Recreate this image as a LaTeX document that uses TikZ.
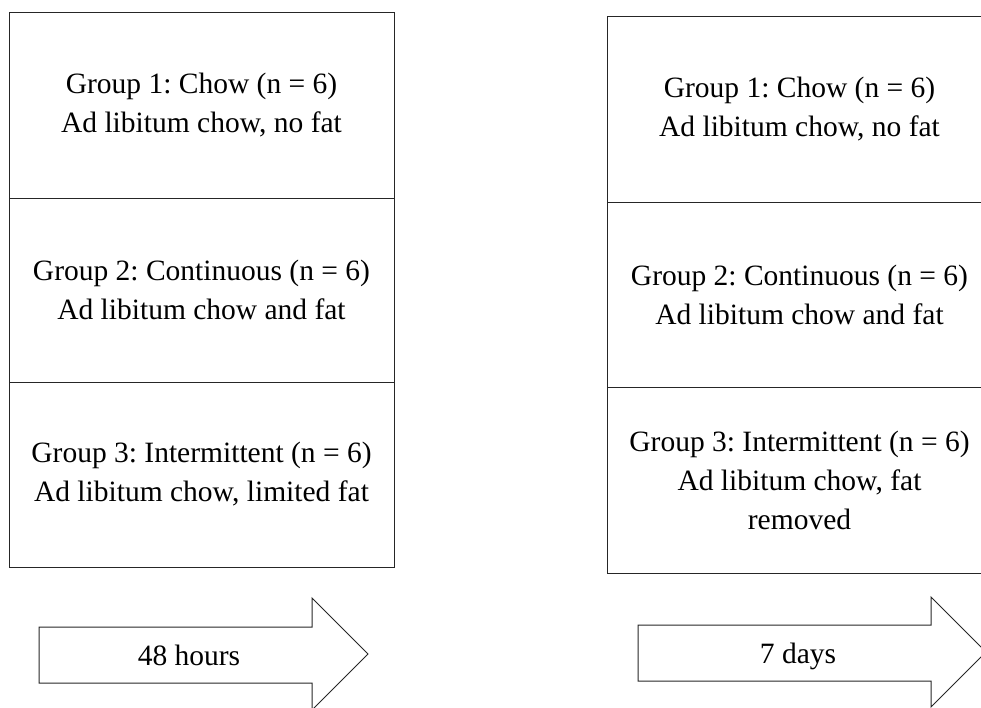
\documentclass[tikz,border=0pt]{standalone}
\usepackage{fontspec}
\setmainfont{Liberation Serif}
\frenchspacing
\begin{document}
\begin{tikzpicture}[x=1pt,y=-1pt,line width=1pt,
  grpbox/.style={draw=black!85,minimum width=385pt,align=center,inner sep=0pt,
    font=\fontsize{29.5}{39}\selectfont},
  arrowshape/.style={draw=black!85,line join=miter},
  arrowlabel/.style={anchor=base,inner sep=0pt,font=\fontsize{29.5}{39}\selectfont}]
\useasboundingbox (0,0) rectangle (981,707);
\clip (0,0) rectangle (981,707);
% left column
\node[grpbox,minimum height=186pt] (l1) at (201.5,105) {Group 1: Chow (n = 6)\\Ad libitum chow, no fat};
\node[grpbox,minimum height=184pt] (l2) at (201.5,290) {Group 2: Continuous (n = 6)\\Ad libitum chow and fat};
\node[grpbox,minimum height=185pt] (l3) at (201.5,474.5) {Group 3: Intermittent (n = 6)\\Ad libitum chow, limited fat};
% right column
\node[grpbox,minimum height=186pt] (r1) at (799.5,109) {Group 1: Chow (n = 6)\\Ad libitum chow, no fat};
\node[grpbox,minimum height=185pt] (r2) at (799.5,294.5) {Group 2: Continuous (n = 6)\\Ad libitum chow and fat};
\node[grpbox,minimum height=186pt] (r3) at (799.5,480) {Group 3: Intermittent (n = 6)\\Ad libitum chow, fat\\removed};
% arrows
\draw[arrowshape] (39,627) -- (312,627) -- (312,598) -- (368,654) -- (312,710) -- (312,683) -- (39,683) -- cycle;
\node[arrowlabel] (a1) at (189,665) {48 hours};
\draw[arrowshape] (638,625) -- (931,625) -- (931,597) -- (986,652) -- (931,707) -- (931,681) -- (638,681) -- cycle;
\node[arrowlabel] (a2) at (798,663) {7 days};
\end{tikzpicture}
\end{document}
